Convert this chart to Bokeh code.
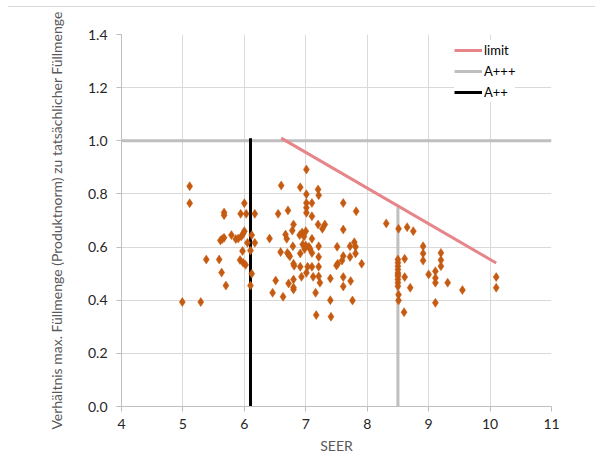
from bokeh.plotting import figure
from bokeh.models import Range1d, Legend, LegendItem, FixedTicker, Div
from bokeh.layouts import column
from bokeh.embed import file_html
from bokeh.resources import INLINE

# ---- data ----
seer = [4.99, 5.29, 5.11, 5.11, 5.38, 5.59, 5.63, 5.70, 5.67, 5.67, 5.61, 5.64, 5.67, 5.79,
        5.86, 5.90, 5.95, 5.98, 6.00, 6.00, 5.94, 6.03, 6.17, 6.12, 6.05, 6.17, 6.10, 5.97,
        5.93, 5.98, 6.02, 6.12, 6.10, 6.41, 6.46, 6.51, 6.55, 6.59, 6.60,
        6.63, 6.67, 6.69, 6.71, 6.72, 6.74, 6.70, 6.72, 6.78, 6.79, 6.80, 6.80, 6.81, 6.80,
        6.80, 6.80, 6.91, 6.91, 6.91, 6.93, 6.90, 6.94, 6.97, 7.00, 7.01, 7.01, 7.01, 7.01,
        7.01, 6.95, 7.00, 7.05, 6.98, 7.07, 7.03, 7.10, 7.01, 7.10, 7.10, 7.10, 7.10, 7.12,
        7.16, 7.17, 7.20, 7.21, 7.20, 7.27, 7.31, 7.21, 7.21, 7.21, 7.21, 7.23, 7.40, 7.40,
        7.41, 7.50, 7.52, 7.51, 7.59, 7.61, 7.61, 7.61, 7.61, 7.61, 7.72, 7.72, 7.73, 7.76,
        7.79, 7.81, 7.81, 7.82, 7.91,
        8.31, 8.51, 8.65, 8.75, 8.50, 8.50, 8.50, 8.50, 8.50, 8.50, 8.50, 8.50, 8.50, 8.50,
        8.51, 8.51, 8.61, 8.61, 8.70, 8.60, 8.91, 8.91, 8.91, 9.20, 9.20, 9.20, 9.11, 9.00,
        9.11, 9.11, 9.31, 9.55, 10.10, 10.10, 9.11]
ratio = [0.393, 0.393, 0.829, 0.765, 0.553, 0.553, 0.504, 0.455, 0.730, 0.720, 0.625, 0.630,
         0.635, 0.645, 0.630, 0.632, 0.640, 0.650, 0.660, 0.765, 0.725, 0.725, 0.725, 0.645,
         0.616, 0.616, 0.587, 0.585, 0.551, 0.541, 0.533, 0.500, 0.455, 0.632, 0.428, 0.474,
         0.725, 0.581, 0.832,
         0.413, 0.647, 0.631, 0.738, 0.572, 0.565, 0.578, 0.463, 0.662, 0.603, 0.685, 0.537,
         0.530, 0.478, 0.448, 0.440, 0.825, 0.576, 0.526, 0.488, 0.645, 0.655, 0.640, 0.660,
         0.892, 0.799, 0.766, 0.748, 0.729, 0.610, 0.606, 0.601, 0.593, 0.593, 0.526, 0.526,
         0.503, 0.766, 0.716, 0.631, 0.578, 0.488, 0.428, 0.344, 0.817, 0.795, 0.685, 0.669,
         0.685, 0.603, 0.563, 0.526, 0.490, 0.466, 0.482, 0.400, 0.338, 0.531, 0.537, 0.601,
         0.549, 0.766, 0.666, 0.566, 0.487, 0.452, 0.603, 0.563, 0.472, 0.399, 0.618, 0.601,
         0.576, 0.735, 0.537,
         0.689, 0.669, 0.675, 0.660, 0.553, 0.541, 0.528, 0.516, 0.503, 0.497, 0.490, 0.478,
         0.466, 0.453, 0.421, 0.399, 0.556, 0.487, 0.447, 0.355, 0.603, 0.576, 0.549, 0.578,
         0.551, 0.528, 0.509, 0.497, 0.484, 0.466, 0.466, 0.438, 0.487, 0.447, 0.390]

limit_x = [6.6, 10.1]
limit_y = [1.01, 0.54]
a3_x = [8.5, 8.5]
a3_y = [0.0, 0.75]
a2_x = [6.1, 6.1]
a2_y = [0.0, 1.01]
ref_x = [4, 11]
ref_y = [1.0, 1.0]

x_ticks = [4, 5, 6, 7, 8, 9, 10, 11]
y_ticks = [0.0, 0.2, 0.4, 0.6, 0.8, 1.0, 1.2, 1.4]
y_tick_labels = {v: f"{v:.1f}" for v in y_ticks}
y_title = "Verhältnis max. Füllmenge (Produktnorm) zu tatsächlicher Füllmenge"
x_title = "SEER"

FONT = "Lato"
TOP_DIV = 8

p = figure(width=595, height=473 - TOP_DIV, output_backend="svg", toolbar_location=None,
           x_range=Range1d(4, 11), y_range=Range1d(0, 1.4),
           min_border_left=121, min_border_right=44, min_border_top=35 - TOP_DIV,
           min_border_bottom=66)
p.outline_line_color = None
p.background_fill_color = "white"
p.border_fill_color = "white"

# grid
p.xgrid.ticker = FixedTicker(ticks=x_ticks)
p.ygrid.ticker = FixedTicker(ticks=y_ticks)
p.grid.grid_line_color = "#d9d9d9"
p.grid.grid_line_width = 1

# axes
p.xaxis.ticker = FixedTicker(ticks=x_ticks)
p.yaxis.ticker = FixedTicker(ticks=y_ticks)
p.yaxis.major_label_overrides = y_tick_labels
for ax in (p.xaxis[0], p.yaxis[0]):
    ax.axis_line_color = "#bfbfbf"
    ax.major_tick_line_color = "#bfbfbf"
    ax.major_tick_in = 0
    ax.major_tick_out = 5
    ax.minor_tick_line_color = None
    ax.major_label_text_font = FONT
    ax.major_label_text_font_size = "14px"
    ax.major_label_text_color = "#262626"
    ax.axis_label_text_font = FONT
    ax.axis_label_text_font_style = "normal"
    ax.axis_label_text_color = "#595959"
p.xaxis.axis_label = x_title
p.xaxis.axis_label_text_font_size = "14px"
p.xaxis.major_label_standoff = 7
p.xaxis.axis_label_standoff = 5
p.yaxis.major_label_standoff = 9
p.yaxis.axis_label = y_title
p.yaxis.axis_label_text_font_size = "14px"
p.yaxis.axis_label_standoff = 20

# lines
p.line(ref_x, ref_y, line_color="#bfbfbf", line_width=3)
r_a3 = p.line(a3_x, a3_y, line_color="#bfbfbf", line_width=3)
r_a2 = p.line(a2_x, a2_y, line_color="#000000", line_width=3)
r_lim = p.line(limit_x, limit_y, line_color="#e6858a", line_width=3)

# scatter
p.scatter(seer, ratio, marker="diamond", size=9, fill_color="#c55a11",
          line_color="#c55a11", line_width=0.5)

legend = Legend(items=[LegendItem(label="limit", renderers=[r_lim]),
                       LegendItem(label="A+++", renderers=[r_a3]),
                       LegendItem(label="A++", renderers=[r_a2])],
                location=(333, 304), padding=4, spacing=1, margin=0,
                glyph_width=28, glyph_height=20, label_height=20, label_standoff=2,
                label_text_font=FONT, label_text_font_size="13px",
                label_text_color="#000000",
                background_fill_color="white", background_fill_alpha=1,
                border_line_color=None)
p.add_layout(legend)

top = Div(text="", width=587, height=TOP_DIV - 1, margin=(0, 0, 0, 8),
          styles={"border-bottom": "1px solid #d9d9d9"})

layout = column(top, p, spacing=0)
open("out.html", "w").write(file_html(layout, INLINE))
